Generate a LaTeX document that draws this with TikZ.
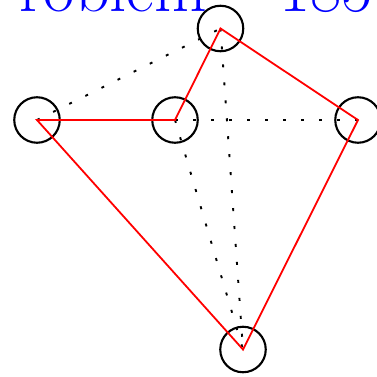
\documentclass[tikz,border=0pt]{standalone}
\begin{document}
\begin{tikzpicture}[x=1pt,y=-1pt,
  ring/.style={circle,draw=black,line width=2.1pt,minimum size=45.5pt,inner sep=0pt},
  redline/.style={draw=red,line width=1.8pt,line join=miter},
  dotline/.style={draw=black,line width=1.9pt,dash pattern=on 3pt off 15pt},
  titletext/.style={text=blue,font=\fontsize{68}{76}\selectfont,inner sep=0pt,anchor=base west}]
\useasboundingbox (0,0) rectangle (376,377);
\node[titletext] (t) at (-23,11.5) {Problem -- 185};
\node[ring] (a) at (37,120) {};
\node[ring] (b) at (175,120) {};
\node[ring] (c) at (220.5,28.5) {};
\node[ring] (d) at (358,120) {};
\node[ring] (e) at (243,349.5) {};
\draw[dotline] (a.center) -- (c.center);
\draw[dotline] (b.center) -- (d.center);
\draw[dotline] (c.center) -- (e.center);
\draw[dotline] (b.center) -- (e.center);
\draw[redline] (a.center) -- (b.center) -- (c.center) -- (d.center) -- (e.center) -- cycle;
\end{tikzpicture}
\end{document}
